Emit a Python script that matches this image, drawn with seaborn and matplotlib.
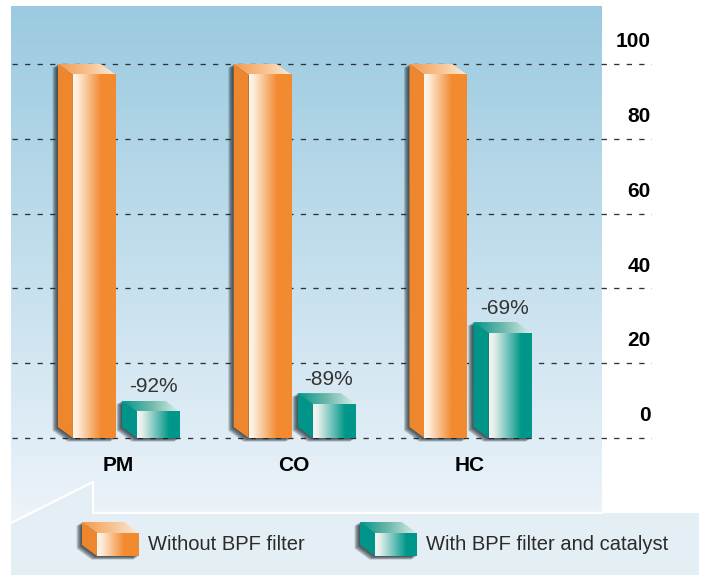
import numpy as np
import pandas as pd
import matplotlib
matplotlib.use("Agg")
import matplotlib.pyplot as plt
from matplotlib.colors import LinearSegmentedColormap
from matplotlib.patches import Polygon
import seaborn as sns

# data
categories = ["PM", "CO", "HC"]
series_names = ["Without BPF filter", "With BPF filter and catalyst"]
without_filter = [100, 100, 100]
with_filter = [10, 12, 31]
reduction_labels = ["-92%", "-89%", "-69%"]
y_ticks = [0, 20, 40, 60, 80, 100]

ORANGE = "#f28a30"
TEAL = "#00978a"
SHADOW = "#18242a"
DEPTH = (15, 11)  # 3d offset of the boxes, in pixels

STYLES = {
    "orange": dict(
        front=LinearSegmentedColormap.from_list(
            "of", [(0, "#fff7ee"), (0.12, "#feead6"), (0.65, ORANGE), (1, ORANGE)]),
        top=LinearSegmentedColormap.from_list("ot", ["#f29b50", "#f8c08c", "#fdebd8"]),
        side="#ee862e"),
    "teal": dict(
        front=LinearSegmentedColormap.from_list(
            "tf", [(0, "#f2f7f3"), (0.12, "#e3efea"), (0.75, TEAL), (1, TEAL)]),
        top=LinearSegmentedColormap.from_list("tt", [TEAL, "#6fb8ab", "#dcefe9"]),
        side="#009588"),
}

sns.set_theme(style="white")
plt.rcParams["font.family"] = ["Liberation Sans", "DejaVu Sans"]


def draw_box(ax, x0, y0, w, h, style, sx, sy, z):
    """front face x0..x0+w, y0..y0+h; depth goes up and to the left"""
    dxu, dyu = DEPTH[0] * sx, DEPTH[1] * sy
    sil = [(x0, y0), (x0 - dxu, y0 + dyu), (x0 - dxu, y0 + h + dyu),
           (x0 + w - dxu, y0 + h + dyu), (x0 + w, y0 + h), (x0 + w, y0)]
    for k in range(1, 7):
        pts = [(px - k * 0.9 * sx, py - 0.6 * k * sy) for px, py in sil]
        ax.add_patch(Polygon(pts, closed=True, fc=SHADOW, ec="none", alpha=0.2, zorder=z - 0.5))
    ax.add_patch(Polygon([(x0, y0), (x0 - dxu, y0 + dyu), (x0 - dxu, y0 + h + dyu), (x0, y0 + h)],
                         closed=True, fc=style["side"], ec="none", zorder=z))
    top = Polygon([(x0, y0 + h), (x0 - dxu, y0 + h + dyu), (x0 + w - dxu, y0 + h + dyu), (x0 + w, y0 + h)],
                  closed=True, fc="none", ec="none", zorder=z)
    ax.add_patch(top)
    grad = np.linspace(0, 1, 256).reshape(1, -1)
    im = ax.imshow(grad, cmap=style["top"], extent=[x0 - dxu, x0 + w, y0 + h, y0 + h + dyu],
                   aspect="auto", interpolation="bilinear", zorder=z + 0.1)
    im.set_clip_path(top)
    ax.imshow(grad, cmap=style["front"], extent=[x0, x0 + w, y0, y0 + h],
              aspect="auto", interpolation="bilinear", zorder=z + 0.1)


W, H = 704, 575
fig = plt.figure(figsize=(W / 100, H / 100), dpi=100)

# background panels (pixel coordinates)
ax_bg = fig.add_axes([0, 0, 1, 1], zorder=0)
bg_cmap = LinearSegmentedColormap.from_list("bg", ["#9bcae0", "#c4dfed", "#eef4fa"])
ax_bg.imshow(np.linspace(0, 1, 256).reshape(-1, 1), cmap=bg_cmap, extent=[11, 602, 525, 6],
             aspect="auto", interpolation="bilinear", zorder=0)
legend_panel = [(11, 523), (93, 482), (93, 513), (699, 513), (699, 575), (11, 575)]
ax_bg.add_patch(Polygon(legend_panel, closed=True, fc="#e4eef5", ec="none", zorder=1))
ax_bg.plot([11, 93, 93, 602], [523, 482, 513, 513], color="white", lw=1.6, zorder=2)
ax_bg.set_xlim(0, W)
ax_bg.set_ylim(H, 0)
ax_bg.axis("off")

# legend entries
legend_items = [("orange", 97, 148), ("teal", 375, 426)]
for name, (key, box_x, text_x) in zip(series_names, legend_items):
    draw_box(ax_bg, box_x, 556, 42, -23, STYLES[key], 1, -1, 3)
    ax_bg.text(text_x, 545, name, fontsize=14.5, color="#2b2b2b", ha="left", va="center", zorder=4)
ax_bg.set_xlim(0, W)
ax_bg.set_ylim(H, 0)

# data axes
ax = fig.add_axes([12 / W, (H - 513) / H, 640 / W, 507 / H], zorder=1)
ax.patch.set_alpha(0)
xlim = (-0.6515, 2.990)
ylim = (-20.05, 115.5)
sx = (xlim[1] - xlim[0]) / 640
sy = (ylim[1] - ylim[0]) / 507
dy_units = DEPTH[1] * sy

df = pd.DataFrame({
    "category": categories * 2,
    "series": [series_names[0]] * 3 + [series_names[1]] * 3,
    "front": [v - dy_units for v in without_filter + with_filter],
})
sns.barplot(data=df, x="category", y="front", hue="series", hue_order=series_names,
            palette=[ORANGE, TEAL], width=0.73, gap=0.33, saturation=1,
            errorbar=None, legend=False, ax=ax)

bars = sorted(ax.patches, key=lambda p: p.get_x())
for i, p in enumerate(bars):
    key = "orange" if i % 2 == 0 else "teal"
    p.set_zorder(3)
    p.set_edgecolor("none")
    draw_box(ax, p.get_x(), 0, p.get_width(), p.get_height(), STYLES[key], sx, sy, 3)
    if key == "teal":
        cat = i // 2
        ax.annotate(reduction_labels[cat], (p.get_x() + p.get_width() / 2, with_filter[cat]),
                    xytext=(-4, 10), textcoords="offset points", ha="center", va="center",
                    fontsize=15, color="#333333")

for v in y_ticks:
    ax.axhline(v, color="#2e3338", lw=0.95, ls=(0, (4, 5.5)), zorder=0.5)
    ax.annotate(str(v), (1, v), xycoords=("axes fraction", "data"), xytext=(-1, 16),
                textcoords="offset points", ha="right", va="center",
                fontsize=15, fontweight="bold", color="black")

for i, cat in enumerate(categories):
    ax.annotate(cat, (i, 0), xytext=(-6, -19.5), textcoords="offset points",
                ha="center", va="center", fontsize=15, fontweight="bold", color="black")

ax.set_xlim(*xlim)
ax.set_ylim(*ylim)
ax.set_xticks([])
ax.set_yticks([])
ax.set_xlabel("")
ax.set_ylabel("")
sns.despine(ax=ax, left=True, bottom=True)

fig.savefig("out.png", dpi=100)
